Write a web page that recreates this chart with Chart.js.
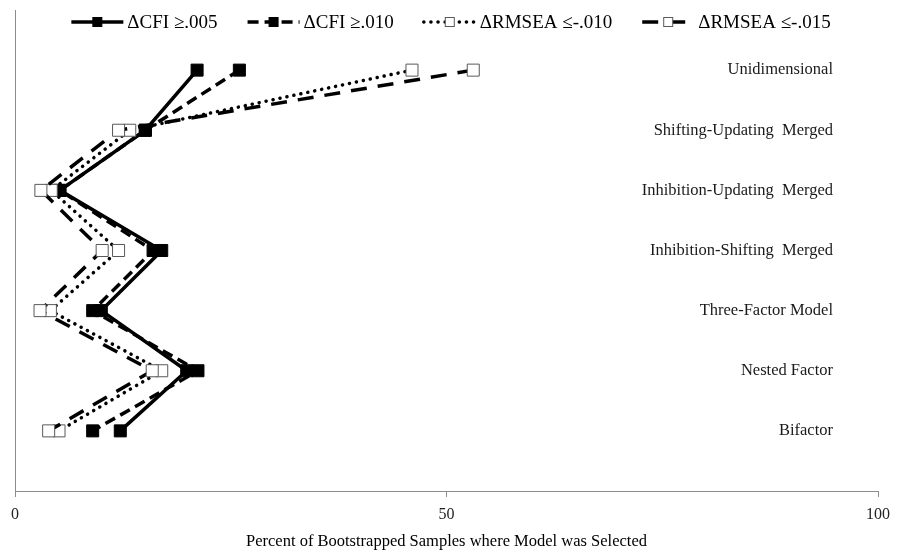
<!DOCTYPE html>
<html>
<head>
<meta charset="utf-8">
<script src="https://cdn.jsdelivr.net/npm/chart.js@4"></script>
<style>
    html, body { margin: 0; padding: 0; background: #fff; }
    #wrap { width: 905px; height: 553px; }
</style>
</head>
<body>
<div id="wrap"><canvas id="modelChart" width="905" height="553"></canvas></div>
<script>
const categories = ['Unidimensional', 'Shifting-Updating  Merged', 'Inhibition-Updating  Merged',
    'Inhibition-Shifting  Merged', 'Three-Factor Model', 'Nested Factor', 'Bifactor'];
const seriesNames = ['\u0394CFI \u2265.005', '\u0394CFI \u2265.010', '\u0394RMSEA \u2264-.010', '\u0394RMSEA \u2264-.015'];
const cfi005 = [21.1, 15.1, 5.2, 17.0, 10.0, 19.9, 12.2];
const cfi010 = [26.0, 15.1, 5.2, 16.0, 9.0, 21.2, 9.0];
const rmsea010 = [46.0, 13.3, 4.2, 12.0, 4.1, 17.0, 5.1];
const rmsea015 = [53.1, 12.0, 3.0, 10.1, 2.9, 15.9, 3.9];
const xTicks = [0, 50, 100];

const serif = "'Liberation Serif', 'Times New Roman', serif";

function toPoints(vals) {
    return vals.map((v, i) => ({ x: v, y: categories.length - i }));
}

const styles = [
    { dash: [], cap: 'butt', fill: '#000', border: '#000' },
    { dash: [11, 6], cap: 'butt', fill: '#000', border: '#000' },
    { dash: [0.1, 7], cap: 'round', fill: '#fff', border: '#595959' },
    { dash: [16, 11], cap: 'butt', fill: '#fff', border: '#595959' }
];

const allSeries = [cfi005, cfi010, rmsea010, rmsea015];

const datasets = allSeries.map((vals, i) => ({
    label: seriesNames[i],
    data: toPoints(vals),
    borderColor: '#000',
    borderWidth: 3.5,
    borderDash: styles[i].dash,
    borderCapStyle: styles[i].cap,
    pointStyle: 'rect',
    pointRadius: 8.5,
    pointHoverRadius: 8.5,
    pointBackgroundColor: styles[i].fill,
    pointBorderColor: styles[i].border,
    pointBorderWidth: 1,
    fill: false,
    tension: 0,
    order: allSeries.length - i
}));

// category names written inside the plot, right side
const categoryLabels = {
    id: 'categoryLabels',
    afterDraw(chart) {
        const ctx = chart.ctx;
        const y = chart.scales.y;
        const right = chart.chartArea.right - 45;
        ctx.save();
        ctx.font = '16.5px ' + serif;
        ctx.fillStyle = '#1a1a1a';
        ctx.textAlign = 'right';
        ctx.textBaseline = 'middle';
        categories.forEach((c, i) => {
            ctx.fillText(c, right, y.getPixelForValue(categories.length - i));
        });
        ctx.restore();
    }
};

// legend with line + marker sample, like the original
const lineLegend = {
    id: 'lineLegend',
    afterDraw(chart) {
        const ctx = chart.ctx;
        const sampleW = 52, gapText = 4, gapItem = 30, yMid = 22;
        ctx.save();
        ctx.font = '19px ' + serif;
        const widths = seriesNames.map(n => sampleW + gapText + ctx.measureText(n).width);
        const total = widths.reduce((a, b) => a + b, 0) + gapItem * (widths.length - 1);
        let x = 451 - total / 2;
        seriesNames.forEach((name, i) => {
            const s = styles[i];
            ctx.beginPath();
            ctx.setLineDash(s.dash);
            ctx.lineCap = s.cap;
            ctx.lineWidth = 3.5;
            ctx.strokeStyle = '#000';
            ctx.moveTo(x, yMid);
            ctx.lineTo(x + sampleW, yMid);
            ctx.stroke();
            ctx.setLineDash([]);
            ctx.fillStyle = s.fill;
            ctx.fillRect(x + sampleW / 2 - 4.5, yMid - 4.5, 9, 9);
            ctx.lineWidth = 1;
            ctx.strokeStyle = s.border;
            ctx.strokeRect(x + sampleW / 2 - 4.5, yMid - 4.5, 9, 9);
            ctx.fillStyle = '#000';
            ctx.textBaseline = 'middle';
            ctx.textAlign = 'left';
            ctx.fillText(name, x + sampleW + gapText, yMid + 1);
            x += widths[i] + gapItem;
        });
        ctx.restore();
    }
};

document.addEventListener('DOMContentLoaded', () => {
    const ctx = document.getElementById('modelChart').getContext('2d');
    new Chart(ctx, {
        type: 'line',
        data: { datasets: datasets },
        options: {
            responsive: false,
            animation: false,
            layout: { padding: { left: 15, right: 27, top: 10, bottom: 1 } },
            scales: {
                x: {
                    type: 'linear',
                    min: 0,
                    max: 100,
                    afterBuildTicks(axis) {
                        axis.ticks = xTicks.map(v => ({ value: v }));
                    },
                    ticks: {
                        color: '#222',
                        font: { family: serif, size: 16 },
                        padding: 8,
                        maxRotation: 0
                    },
                    grid: {
                        drawOnChartArea: false,
                        drawTicks: true,
                        tickLength: 6,
                        color: '#8c8c8c'
                    },
                    border: { color: '#8c8c8c', width: 1 },
                    title: {
                        display: true,
                        text: 'Percent of Bootstrapped Samples where Model was Selected',
                        color: '#000',
                        font: { family: serif, size: 16.5 },
                        padding: { top: 0, bottom: 0 }
                    }
                },
                y: {
                    type: 'linear',
                    min: 0,
                    max: 8,
                    ticks: { display: false },
                    grid: { display: false, drawTicks: false },
                    border: { color: '#8c8c8c', width: 1 }
                }
            },
            plugins: {
                legend: { display: false },
                tooltip: { enabled: false }
            }
        },
        plugins: [categoryLabels, lineLegend]
    });
});
</script>
</body>
</html>
